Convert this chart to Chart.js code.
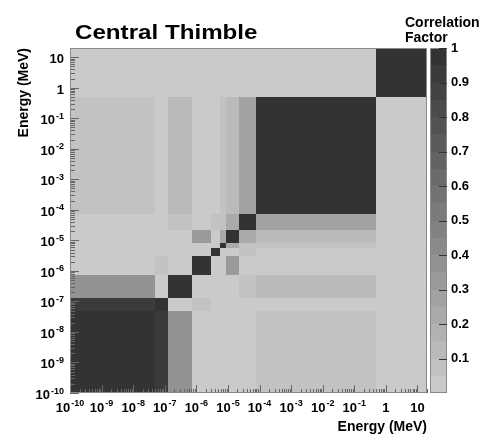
<!DOCTYPE html>
<html>
<head>
<meta charset="utf-8">
<script src="https://cdn.jsdelivr.net/npm/chart.js@4.4.1/dist/chart.umd.min.js"></script>
<style>
  html, body { margin: 0; padding: 0; background: #fff; }
  canvas { display: block; }
</style>
</head>
<body>
<canvas id="graph1" width="485" height="438"></canvas>
<script>
//群のエネルギー境界 (MeV)
var edges = [1e-10, 5e-8, 1.3e-7, 7.2e-7, 3e-6, 5.5e-6, 8.5e-6, 2.2e-5, 7.5e-5, 0.5, 20];
//相関係数 (行 = 縦軸の群, 列 = 横軸の群, 低エネルギーから)
var corr = [
  [1.00, 0.92, 0.35, 0.00, 0.03, 0.00, 0.00, 0.03, 0.08, 0.02],
  [0.92, 1.00, 0.00, 0.06, 0.02, 0.00, 0.00, 0.02, 0.02, 0.02],
  [0.35, 0.00, 1.00, 0.01, 0.01, 0.01, 0.01, 0.06, 0.11, 0.02],
  [0.00, 0.06, 0.01, 1.00, 0.00, 0.01, 0.34, 0.00, 0.02, 0.02],
  [0.03, 0.02, 0.01, 0.00, 1.00, 0.04, 0.03, 0.06, 0.01, 0.02],
  [0.00, 0.00, 0.01, 0.01, 0.04, 1.00, 0.24, 0.09, 0.07, 0.02],
  [0.00, 0.00, 0.01, 0.34, 0.03, 0.24, 1.00, 0.21, 0.11, 0.02],
  [0.03, 0.02, 0.06, 0.00, 0.06, 0.09, 0.21, 1.00, 0.29, 0.02],
  [0.08, 0.02, 0.11, 0.02, 0.01, 0.07, 0.11, 0.29, 1.00, 0.02],
  [0.02, 0.02, 0.02, 0.02, 0.02, 0.02, 0.02, 0.02, 0.02, 1.00]
];
//目盛り
var decades = [-10, -9, -8, -7, -6, -5, -4, -3, -2, -1, 0, 1];
var cbarTicks = [0.1, 0.2, 0.3, 0.4, 0.5, 0.6, 0.7, 0.8, 0.9, 1];
var eMin = 1e-10, eMax = 20;
var nLevels = 20;

var FONT = '"Liberation Sans", Arial, sans-serif';

//グレーのパレット (0 -> 明るい, 1 -> 暗い)
function levelColor(k) {
  var g = Math.round(202 - 151 * k / (nLevels - 1));
  return 'rgb(' + g + ',' + g + ',' + g + ')';
}
function valueColor(v) {
  var k = Math.floor(v * nLevels);
  if (k > nLevels - 1) k = nLevels - 1;
  if (k < 0) k = 0;
  return levelColor(k);
}

//対数軸の目盛り (1..9 x 10^k)
function logTicks(scale) {
  var t = [];
  for (let i = 0; i < decades.length; i++) {
    for (let m = 1; m <= 9; m++) {
      var v = parseFloat(m + 'e' + decades[i]);
      if (v >= eMin && v <= eMax) t.push({value: v, major: m === 1});
    }
  }
  scale.ticks = t;
}

//10のべき乗のラベル (指数は上付き)
function drawDecadeLabels(ctx, scale, horiz, a) {
  scale.ticks.forEach(function(t) {
    if (!t.major) return;
    var k = Math.round(Math.log10(t.value));
    if (decades.indexOf(k) < 0) return;
    var base = k === 0 ? '1' : '10';
    var ex = (k === 0 || k === 1) ? '' : String(k);
    ctx.font = 'bold 13px ' + FONT;
    var wb = ctx.measureText(base).width;
    ctx.font = 'bold 9px ' + FONT;
    var we = ex ? ctx.measureText(ex).width + 1 : 0;
    var p = scale.getPixelForValue(t.value);
    var x0, yb;
    if (horiz) {
      x0 = p - (wb + we) / 2;
      yb = a.bottom + 18.5;
    } else {
      x0 = a.left - 6 - wb - we;
      yb = p + 6;
    }
    ctx.font = 'bold 13px ' + FONT;
    ctx.fillText(base, x0, yb);
    if (ex) {
      ctx.font = 'bold 9px ' + FONT;
      ctx.fillText(ex, x0 + wb + 1, yb - 5.5);
    }
  });
}

var tickFont = {family: FONT, weight: 'bold', size: 13};
var titleFont = {family: FONT, weight: 'bold', size: 14};

//セルと枠
var matrixPlugin = {
  id: 'matrix',
  beforeDatasetsDraw: function(chart) {
    var ctx = chart.ctx, xs = chart.scales.x, ys = chart.scales.y;
    ctx.save();
    for (let i = 0; i < corr.length; i++) {
      var yTop = Math.round(ys.getPixelForValue(edges[i + 1]));
      var yBot = Math.round(ys.getPixelForValue(edges[i]));
      for (let j = 0; j < corr[i].length; j++) {
        var xL = Math.round(xs.getPixelForValue(edges[j]));
        var xR = Math.round(xs.getPixelForValue(edges[j + 1]));
        ctx.fillStyle = valueColor(corr[i][j]);
        ctx.fillRect(xL, yTop, xR - xL, yBot - yTop);
      }
    }
    ctx.restore();
  },
  afterDatasetsDraw: function(chart) {
    var ctx = chart.ctx, a = chart.chartArea, xs = chart.scales.x, ys = chart.scales.y, cb = chart.scales.cb;
    ctx.save();
    //目盛り線 (内向き)
    ctx.strokeStyle = '#666';
    ctx.lineWidth = 1;
    ctx.beginPath();
    xs.ticks.forEach(function(t) {
      var x = Math.round(xs.getPixelForValue(t.value)) + 0.5;
      ctx.moveTo(x, a.bottom);
      ctx.lineTo(x, a.bottom - (t.major ? 8 : 4));
    });
    ys.ticks.forEach(function(t) {
      var y = Math.round(ys.getPixelForValue(t.value)) + 0.5;
      ctx.moveTo(a.left, y);
      ctx.lineTo(a.left + (t.major ? 9 : 5), y);
    });
    ctx.stroke();
    ctx.strokeStyle = '#8a8a8a';
    ctx.strokeRect(a.left + 0.5, a.top + 0.5, a.right - a.left - 1, a.bottom - a.top - 1);

    //カラーバー
    var bl = a.right + 3, br = a.right + 20;
    for (let k = 0; k < nLevels; k++) {
      var y0 = Math.round(cb.getPixelForValue((k + 1) / nLevels));
      var y1 = Math.round(cb.getPixelForValue(k / nLevels));
      ctx.fillStyle = levelColor(k);
      ctx.fillRect(bl, y0, br - bl, y1 - y0);
    }
    ctx.strokeStyle = '#8a8a8a';
    ctx.strokeRect(bl + 0.5, a.top + 0.5, br - bl - 1, a.bottom - a.top - 1);
    ctx.strokeStyle = '#333';
    ctx.beginPath();
    cbarTicks.forEach(function(v) {
      var y = Math.round(cb.getPixelForValue(v)) + 0.5;
      ctx.moveTo(br - 8, y);
      ctx.lineTo(br, y);
    });
    ctx.stroke();
    ctx.restore();
  },
  afterDraw: function(chart) {
    var ctx = chart.ctx, a = chart.chartArea;
    ctx.save();
    ctx.fillStyle = '#000';
    ctx.textBaseline = 'alphabetic';
    ctx.textAlign = 'left';
    drawDecadeLabels(ctx, chart.scales.x, true, a);
    drawDecadeLabels(ctx, chart.scales.y, false, a);
    ctx.font = 'bold 21px ' + FONT;
    ctx.translate(75, 39);
    ctx.scale(1.15, 1);
    ctx.fillText('Central Thimble', 0, 0);
    ctx.setTransform(1, 0, 0, 1, 0, 0);
    ctx.font = 'bold 14px ' + FONT;
    ctx.fillText('Correlation', 405, 27);
    ctx.fillText('Factor', 405, 42);
    ctx.restore();
  }
};

document.addEventListener('DOMContentLoaded', function() {
  var ctx = document.querySelector('#graph1').getContext('2d');
  var chart = new Chart(ctx, {
    type: 'scatter',
    data: { datasets: [] },
    plugins: [matrixPlugin],
    options: {
      responsive: false,
      animation: false,
      layout: { padding: { top: 48, left: 0, right: 0, bottom: 0 } },
      plugins: { legend: { display: false }, tooltip: { enabled: false } },
      scales: {
        x: {
          type: 'logarithmic', position: 'bottom', min: eMin, max: eMax,
          afterBuildTicks: logTicks,
          afterFit: function(s) { s.height = 45; },
          grid: { display: false, drawTicks: false },
          border: { display: false },
          ticks: { display: false, autoSkip: false },
          title: { display: true, text: 'Energy (MeV)', align: 'end', color: '#000', font: titleFont, padding: { top: 0, bottom: 2 } }
        },
        y: {
          type: 'logarithmic', position: 'left', min: eMin, max: eMax,
          afterBuildTicks: logTicks,
          afterFit: function(s) { s.width = 70; },
          grid: { display: false, drawTicks: false },
          border: { display: false },
          ticks: { display: false, autoSkip: false },
          title: { display: true, text: 'Energy (MeV)', align: 'end', color: '#000', font: titleFont, padding: { top: 16, bottom: 0 } }
        },
        cb: {
          axis: 'y', type: 'linear', position: 'right', min: 0, max: 1,
          afterBuildTicks: function(s) { s.ticks = cbarTicks.map(function(v){ return {value: v}; }); },
          afterFit: function(s) { s.width = 58; },
          grid: { display: false, drawTicks: false },
          border: { display: false },
          ticks: { autoSkip: false, padding: 24, color: '#000', font: tickFont, callback: function(v){ return String(v); } }
        }
      }
    }
  });
});
</script>
</body>
</html>
